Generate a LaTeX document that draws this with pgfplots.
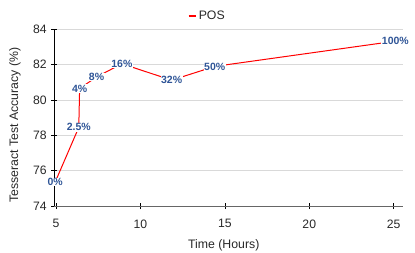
\documentclass[border=0pt]{standalone}
\usepackage{fontspec}
\setmainfont{Liberation Sans}
\usepackage{pgfplots}
\pgfplotsset{compat=1.18}
\usepackage{pgfplotstable}
\definecolor{lblblue}{RGB}{47,85,151}
\definecolor{gridgray}{RGB}{217,217,217}
\definecolor{txtgray}{RGB}{40,40,40}
\pgfplotstableread{
x y lbl
4.95 75.35 0\%
6.35 78.45 2.5\%
6.40 80.65 4\%
7.40 81.3 8\%
8.90 82.05 16\%
11.85 81.12 32\%
14.40 81.9 50\%
25.10 83.33 100\%
}\posdata
\begin{document}
\begin{tikzpicture}
\begin{axis}[
  scale only axis,
  width=348.7bp, height=176.7bp,
  xmin=4.9, xmax=25.55,
  ymin=74, ymax=84,
  xtick={5,10,15,20,25},
  ytick={74,76,78,80,82,84},
  axis x line*=bottom, axis y line*=left,
  x axis line style={-, draw=black!60, line width=0.8bp},
  y axis line style={-, draw=black, line width=0.7bp},
  tick align=center,
  major tick length=6bp,
  tick style={black, line width=0.7bp},
  ymajorgrids,
  grid style={gridgray, line width=0.8bp},
  ticklabel style={font=\fontsize{12.2bp}{14bp}\selectfont, text=txtgray},
  xticklabel style={yshift=-7bp},
  yticklabel style={xshift=-1bp},
  /pgf/number format/assume math mode=true,
  xlabel={Time (Hours)},
  ylabel={Tesseract Test Accuracy (\%)},
  label style={font=\fontsize{12.3bp}{14bp}\selectfont, text=txtgray},
  xlabel style={at={(axis description cs:0.486,-0.221)}, anchor=center},
  ylabel style={at={(axis description cs:-0.1127,0.458)}, anchor=center},
  legend style={draw=none, fill=none, at={(axis description cs:0.438,1.075)}, anchor=center,
    font=\fontsize{12.3bp}{14bp}\selectfont, text=txtgray},
  legend image code/.code={\draw[red, line width=2.5bp] (0bp,0bp) -- (7bp,0bp);},
  clip=false,
]
\addplot[red, line width=1bp, no markers,
  nodes near coords,
  point meta=explicit symbolic,
  every node near coord/.style={anchor=center, fill=white, inner sep=0.6bp,
    font=\bfseries\fontsize{10.5bp}{12bp}\selectfont, text=lblblue},
] table[x=x, y=y, meta=lbl] {\posdata};
\addlegendentry{POS}
\end{axis}
\pgfresetboundingbox
\useasboundingbox (-54.3bp,-47bp) rectangle (360.7bp,206bp);
\end{tikzpicture}
\end{document}
